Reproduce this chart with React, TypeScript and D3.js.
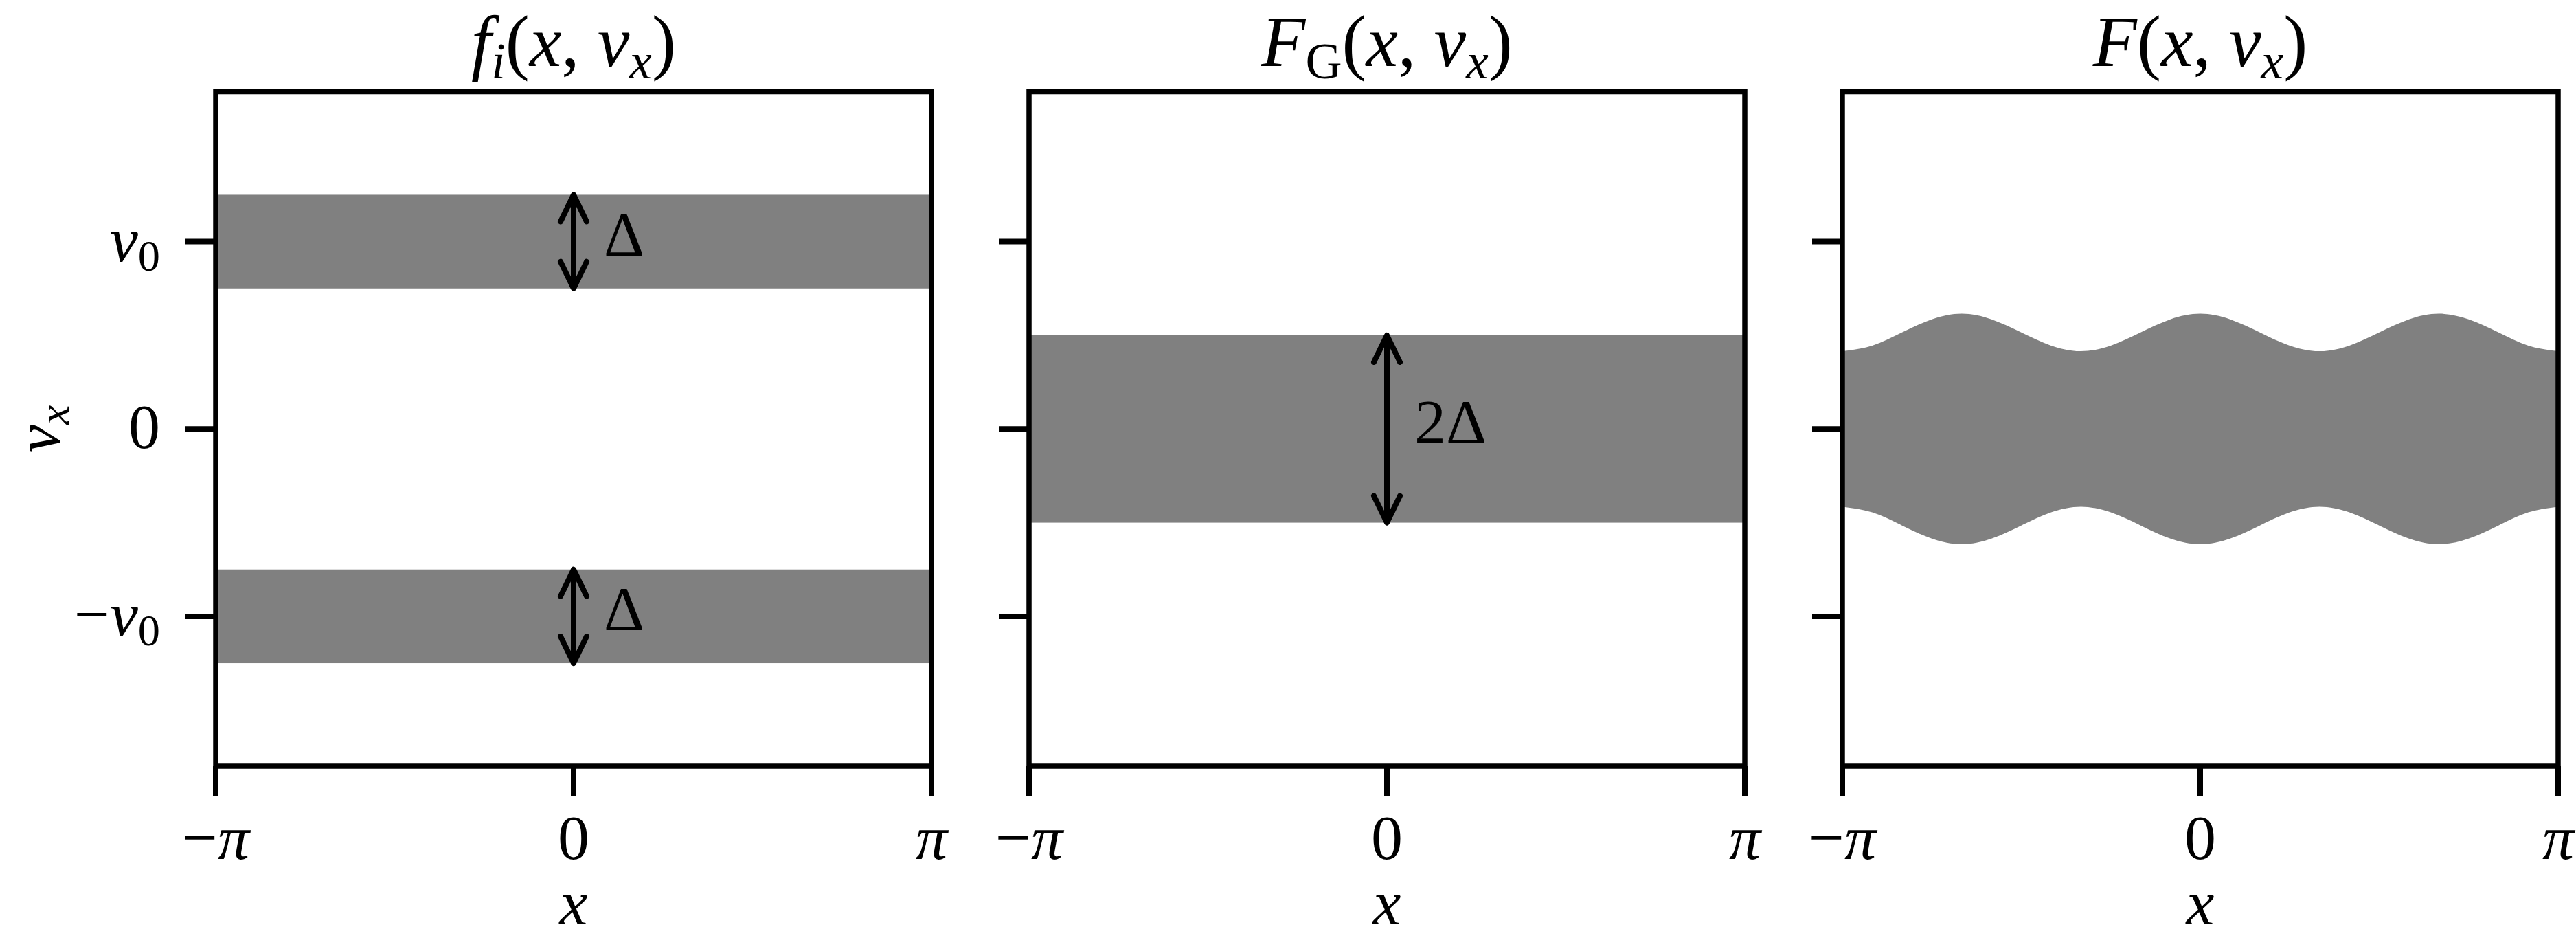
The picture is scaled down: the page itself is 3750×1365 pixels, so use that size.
import React from "react";
import * as d3 from "d3";

// ---------- data ----------
const v0 = 1;
const delta = 0.5;
const xDomain = [-Math.PI, Math.PI];
const vDomain = [-1.8, 1.8];
const xTicks = [-Math.PI, 0, Math.PI];
const xTickLabels = ["−π", "0", "π"];
const vTicks = [v0, 0, -v0];
// panel 1: two beams centred at ±v0, width Δ
const beamCenters = [v0, -v0];
const beamWidths = [delta, delta];
// panel 2: single band of width 2Δ
const bandLow = -delta;
const bandHigh = delta;
// panel 3: wavy band, edges read at x = k·π/12
const waveX = d3.range(-12, 13).map((k) => (k * Math.PI) / 12);
const waveUpper = [
  0.415, 0.445, 0.515, 0.585, 0.615, 0.585, 0.515, 0.445, 0.415, 0.445, 0.515, 0.585, 0.615,
  0.585, 0.515, 0.445, 0.415, 0.445, 0.515, 0.585, 0.615, 0.585, 0.515, 0.445, 0.415,
];
const waveLower = [
  -0.415, -0.445, -0.515, -0.585, -0.615, -0.585, -0.515, -0.445, -0.415, -0.445, -0.515, -0.585,
  -0.615, -0.585, -0.515, -0.445, -0.415, -0.445, -0.515, -0.585, -0.615, -0.585, -0.515, -0.445,
  -0.415,
];

// ---------- layout ----------
const W = 3750;
const H = 1365;
const panelLefts = [314, 1498, 2682];
const panelW = 1042;
const top = 133.5;
const bottom = 1115;
const FONT = "'Liberation Serif', 'DejaVu Serif', serif";
const GRAY = "#808080";
const FS = 92; // tick / label font
const TFS = 105; // title font
const LW = 7.5;

function Arrow({ x, y1, y2 }: { x: number; y1: number; y2: number }) {
  const hl = 39;
  const hw = 19;
  const t = Math.min(y1, y2);
  const b = Math.max(y1, y2);
  return (
    <g stroke="#000" strokeWidth={8} strokeLinecap="round" strokeLinejoin="round" fill="none">
      <line x1={x} x2={x} y1={t + 2} y2={b - 2} />
      <path d={`M${x - hw},${t + hl} L${x},${t} L${x + hw},${t + hl}`} />
      <path d={`M${x - hw},${b - hl} L${x},${b} L${x + hw},${b - hl}`} />
    </g>
  );
}

export default function App() {
  const yScale = d3.scaleLinear().domain(vDomain).range([bottom, top]);
  const xScales = panelLefts.map((l) => d3.scaleLinear().domain(xDomain).range([l, l + panelW]));

  const wave = waveX.map((x, i) => ({ x, hi: waveUpper[i], lo: waveLower[i] }));

  const subDy = 18;
  const subFs = 0.7 * TFS;
  const titleY = 96;

  const renderAxes = (i: number) => {
    const xs = xScales[i];
    const l = panelLefts[i];
    return (
      <g key={"ax" + i}>
        <rect
          x={l}
          y={top}
          width={panelW}
          height={bottom - top}
          fill="none"
          stroke="#000"
          strokeWidth={LW}
        />
        {xTicks.map((t, j) => (
          <g key={"xt" + j}>
            <line x1={xs(t)} x2={xs(t)} y1={bottom} y2={bottom + 44} stroke="#000" strokeWidth={8} />
            <text
              x={xs(t)}
              y={1250}
              textAnchor="middle"
              fontFamily={FONT}
              fontSize={FS}
              fontStyle={xTickLabels[j] === "0" ? "normal" : "italic"}
            >
              {xTickLabels[j] === "−π" ? (
                <>
                  <tspan fontStyle="normal">−</tspan>
                  <tspan fontStyle="italic">π</tspan>
                </>
              ) : (
                xTickLabels[j]
              )}
            </text>
          </g>
        ))}
        {vTicks.map((t, j) => (
          <line
            key={"yt" + j}
            x1={l - 44}
            x2={l}
            y1={yScale(t)}
            y2={yScale(t)}
            stroke="#000"
            strokeWidth={8}
          />
        ))}
        <text
          x={xs(0)}
          y={1345}
          textAnchor="middle"
          fontFamily={FONT}
          fontSize={FS}
          fontStyle="italic"
        >
          x
        </text>
      </g>
    );
  };

  const area = d3
    .area<{ x: number; hi: number; lo: number }>()
    .x((d) => xScales[2](d.x))
    .y0((d) => yScale(d.lo))
    .y1((d) => yScale(d.hi))
    .curve(d3.curveNatural);

  return (
    <svg
      width={W}
      height={H}
      viewBox={`0 0 ${W} ${H}`}
      style={{ position: "absolute", left: 0, top: 0, background: "#fff" }}
    >
      <rect x={0} y={0} width={W} height={H} fill="#fff" />
      {/* panel 1 beams */}
      {beamCenters.map((c, i) => (
        <rect
          key={"beam" + i}
          x={xScales[0](xDomain[0])}
          width={xScales[0](xDomain[1]) - xScales[0](xDomain[0])}
          y={yScale(c + beamWidths[i] / 2)}
          height={yScale(c - beamWidths[i] / 2) - yScale(c + beamWidths[i] / 2)}
          fill={GRAY}
        />
      ))}
      {/* panel 2 band */}
      <rect
        x={xScales[1](xDomain[0])}
        width={xScales[1](xDomain[1]) - xScales[1](xDomain[0])}
        y={yScale(bandHigh)}
        height={yScale(bandLow) - yScale(bandHigh)}
        fill={GRAY}
      />
      {/* panel 3 wavy band */}
      <path d={area(wave) || ""} fill={GRAY} />

      {/* arrows + labels */}
      {beamCenters.map((c, i) => (
        <g key={"arr" + i}>
          <Arrow
            x={xScales[0](0)}
            y1={yScale(c + beamWidths[i] / 2)}
            y2={yScale(c - beamWidths[i] / 2)}
          />
          <text x={xScales[0](0) + 44} y={yScale(c) + 20} fontFamily={FONT} fontSize={FS}>
            Δ
          </text>
        </g>
      ))}
      <Arrow x={xScales[1](0)} y1={yScale(bandHigh)} y2={yScale(bandLow)} />
      <text x={xScales[1](0) + 40} y={yScale(0) + 21} fontFamily={FONT} fontSize={FS}>
        2Δ
      </text>

      {[0, 1, 2].map(renderAxes)}

      {/* y tick labels (first panel only) */}
      <text x={233} y={yScale(v0) + 28} textAnchor="end" fontFamily={FONT} fontSize={FS}>
        <tspan fontStyle="italic">v</tspan>
        <tspan fontSize={0.7 * FS} dy={14}>0</tspan>
      </text>
      <text x={233} y={yScale(0) + 28} textAnchor="end" fontFamily={FONT} fontSize={FS}>
        0
      </text>
      <text x={233} y={yScale(-v0) + 28} textAnchor="end" fontFamily={FONT} fontSize={FS}>
        <tspan>−</tspan>
        <tspan fontStyle="italic">v</tspan>
        <tspan fontSize={0.7 * FS} dy={14}>0</tspan>
      </text>

      {/* y label */}
      <text
        transform={`translate(86, ${yScale(0)}) rotate(-90)`}
        textAnchor="middle"
        fontFamily={FONT}
        fontSize={FS}
        fontStyle="italic"
      >
        <tspan>v</tspan>
        <tspan fontSize={0.7 * FS} dy={14}>x</tspan>
      </text>

      {/* titles */}
      <text x={xScales[0](0)} y={titleY} textAnchor="middle" fontFamily={FONT} fontSize={TFS}>
        <tspan fontStyle="italic">f</tspan>
        <tspan fontStyle="italic" fontSize={subFs} dy={subDy}>i</tspan>
        <tspan dy={-subDy}>(</tspan>
        <tspan fontStyle="italic">x</tspan>
        <tspan>, </tspan>
        <tspan fontStyle="italic">v</tspan>
        <tspan fontStyle="italic" fontSize={subFs} dy={subDy}>x</tspan>
        <tspan dy={-subDy}>)</tspan>
      </text>
      <text x={xScales[1](0)} y={titleY} textAnchor="middle" fontFamily={FONT} fontSize={TFS}>
        <tspan fontStyle="italic">F</tspan>
        <tspan fontSize={subFs} dy={subDy}>G</tspan>
        <tspan dy={-subDy}>(</tspan>
        <tspan fontStyle="italic">x</tspan>
        <tspan>, </tspan>
        <tspan fontStyle="italic">v</tspan>
        <tspan fontStyle="italic" fontSize={subFs} dy={subDy}>x</tspan>
        <tspan dy={-subDy}>)</tspan>
      </text>
      <text x={xScales[2](0)} y={titleY} textAnchor="middle" fontFamily={FONT} fontSize={TFS}>
        <tspan fontStyle="italic">F</tspan>
        <tspan>(</tspan>
        <tspan fontStyle="italic">x</tspan>
        <tspan>, </tspan>
        <tspan fontStyle="italic">v</tspan>
        <tspan fontStyle="italic" fontSize={subFs} dy={subDy}>x</tspan>
        <tspan dy={-subDy}>)</tspan>
      </text>
    </svg>
  );
}
